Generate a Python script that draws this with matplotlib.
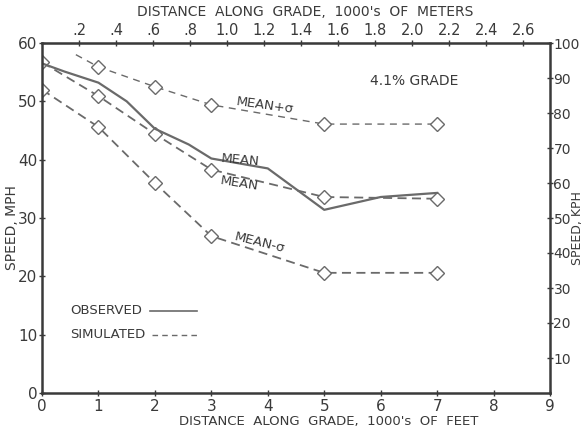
import numpy as np
import matplotlib
matplotlib.use('Agg')
import matplotlib.pyplot as plt

# distance along grade, 1000's of feet / speed, mph
sim_x = [0, 1, 2, 3, 5, 7]
sim_mean = [56.7, 50.9, 44.4, 38.3, 33.6, 33.3]
sim_minus = [52.0, 45.6, 36.0, 26.9, 20.6, 20.6]
plus_x = [0.6, 1, 2, 3, 5, 7]
sim_plus = [58.0, 55.9, 52.5, 49.4, 46.1, 46.1]

obs_x = [0, 0.4, 1, 1.5, 2, 2.6, 3, 4, 5, 6, 7]
obs_mean = [56.5, 55.1, 53.2, 50.0, 45.3, 42.6, 40.2, 38.5, 31.4, 33.6, 34.3]

meter_ticks = [0.2, 0.4, 0.6, 0.8, 1.0, 1.2, 1.4, 1.6, 1.8, 2.0, 2.2, 2.4, 2.6]
meter_labels = ['.2', '.4', '.6', '.8', '1.0', '1.2', '1.4', '1.6', '1.8', '2.0', '2.2', '2.4', '2.6']
kph_ticks = [10, 20, 30, 40, 50, 60, 70, 80, 90, 100]

ink = '#3a3a3a'
line_c = '#6a6a6a'
plt.rcParams['font.family'] = 'DejaVu Sans'
plt.rcParams['text.color'] = ink

W, H = 584, 428
fig = plt.figure(figsize=(W / 100, H / 100), dpi=100)
ax = fig.add_axes([42 / W, 1 - 393 / H, 508 / W, 350 / H])


def px(x, y):
    # pixel position from top-left -> figure fraction
    return x / W, 1 - y / H


mk = dict(marker='D', markersize=7, markerfacecolor='white', markeredgecolor=line_c, markeredgewidth=1)
ax.plot(plus_x, sim_plus, color=line_c, lw=1, ls=(0, (5, 4)), markevery=[1, 2, 3, 4, 5], **mk)
ax.plot(sim_x, sim_mean, color=line_c, lw=1.3, ls=(0, (5, 3)), **mk)
ax.plot(sim_x, sim_minus, color=line_c, lw=1.3, ls=(0, (5, 3)), **mk)
ax.plot(obs_x, obs_mean, color=line_c, lw=1.6, ls='-')

ax.set_xlim(0, 9)
ax.set_ylim(0, 60)
ax.set_xticks(range(10))
ax.set_yticks(range(0, 70, 10))
ax.tick_params(direction='inout', length=5, width=1, colors=ink, labelsize=11, pad=1)
ax.tick_params(axis='x', pad=2)
for s in ax.spines.values():
    s.set_color(ink)
    s.set_linewidth(1.8)

top = ax.secondary_xaxis('top', functions=(lambda f: f * 0.3048, lambda m: m / 0.3048))
top.set_xticks(meter_ticks)
top.set_xticklabels(meter_labels)
top.tick_params(direction='inout', length=5, width=1, colors=ink, labelsize=10.5, pad=1)

right = ax.twinx()
right.set_ylim(0, 100)
right.set_yticks(kph_ticks)
right.tick_params(direction='inout', length=5, width=1, colors=ink, labelsize=10, pad=0)
for s in right.spines.values():
    s.set_visible(False)

# curve labels
fig.text(*px(265, 106), 'MEAN+σ', fontsize=9.5, rotation=-8, ha='center', va='center')
fig.text(*px(240, 160), 'MEAN', fontsize=9.5, rotation=-5, ha='center', va='center')
fig.text(*px(239, 184), 'MEAN', fontsize=9.5, rotation=-9, ha='center', va='center')
fig.text(*px(260, 243), 'MEAN-σ', fontsize=9.5, rotation=-14, ha='center', va='center')
fig.text(*px(414, 81), '4.1% GRADE', fontsize=10, ha='center', va='center')

# legend drawn as text + short lines
fig.text(*px(70, 311), 'OBSERVED', fontsize=9.5, ha='left', va='center')
fig.text(*px(70, 335), 'SIMULATED', fontsize=9.5, ha='left', va='center')
fig.add_artist(plt.Line2D([150 / W, 197 / W], [1 - 311 / H, 1 - 311 / H], color=line_c, lw=1.2))
fig.add_artist(plt.Line2D([152 / W, 197 / W], [1 - 335 / H, 1 - 335 / H], color=line_c, lw=1, ls=(0, (4, 3))))

fig.text(*px(329, 421), "DISTANCE  ALONG  GRADE,  1000's  OF  FEET", fontsize=9.5, ha='center', va='center')
fig.text(*px(305, 12), "DISTANCE  ALONG  GRADE,  1000's  OF  METERS", fontsize=10, ha='center', va='center')
fig.text(*px(12, 228), 'SPEED, MPH', fontsize=10, rotation=90, ha='center', va='center')
fig.text(*px(578, 228), 'SPEED, KPH', fontsize=9, rotation=90, ha='center', va='center')

fig.savefig('out.png', dpi=100)
